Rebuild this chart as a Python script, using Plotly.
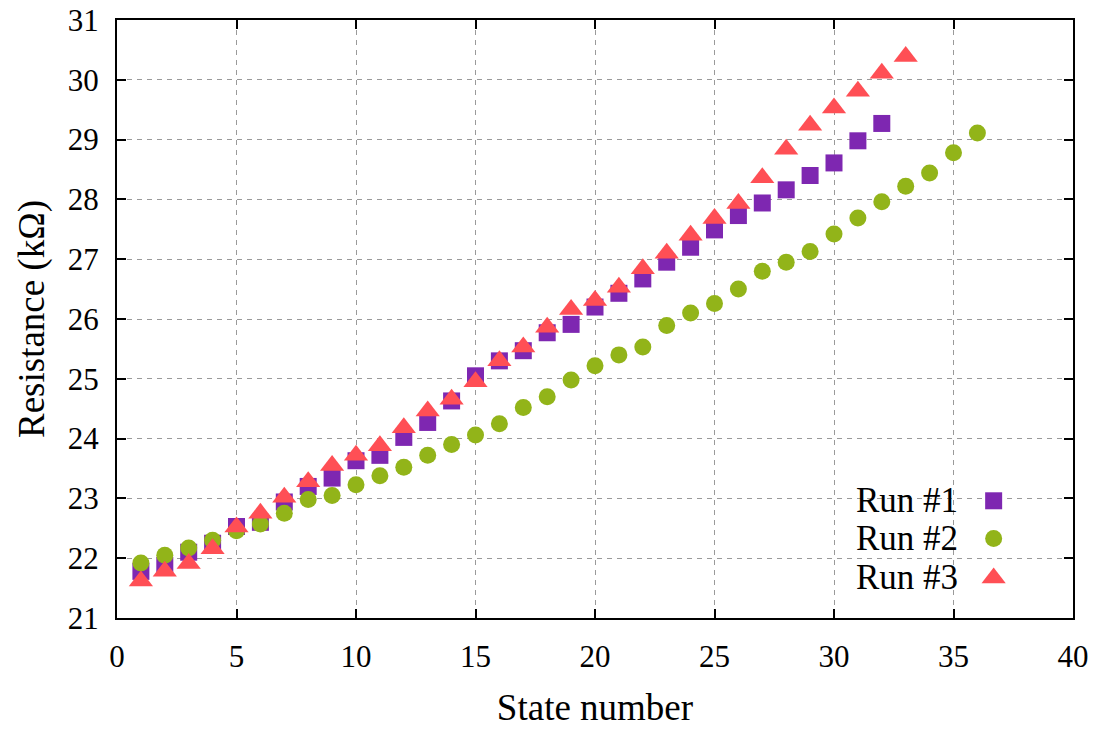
import plotly.graph_objects as go

# Resistance (kOhm) measured at each programmed state, three runs
states_run1 = list(range(1, 33))
run1 = [21.78, 21.88, 22.10, 22.25, 22.53, 22.60, 22.94, 23.20, 23.34, 23.63,
        23.72, 24.02, 24.27, 24.63, 25.05, 25.30, 25.47, 25.77, 25.91, 26.20,
        26.43, 26.67, 26.95, 27.20, 27.49, 27.73, 27.94, 28.16, 28.40, 28.61,
        28.98, 29.27]

states_run2 = list(range(1, 37))
run2 = [21.92, 22.05, 22.17, 22.30, 22.46, 22.57, 22.75, 22.98, 23.05, 23.23,
        23.38, 23.52, 23.72, 23.90, 24.06, 24.25, 24.52, 24.70, 24.98, 25.22,
        25.40, 25.53, 25.89, 26.10, 26.26, 26.50, 26.80, 26.95, 27.13, 27.42,
        27.69, 27.96, 28.22, 28.44, 28.78, 29.11]

states_run3 = list(range(1, 34))
run3 = [21.62, 21.78, 21.91, 22.16, 22.52, 22.75, 23.02, 23.28, 23.55, 23.72,
        23.88, 24.18, 24.46, 24.66, 24.95, 25.30, 25.53, 25.86, 26.16, 26.31,
        26.53, 26.84, 27.10, 27.40, 27.68, 27.93, 28.36, 28.84, 29.24, 29.53,
        29.81, 30.11, 30.39]

series_names = ["Run #1", "Run #2", "Run #3"]
colors = ["#7E27B1", "#92B419", "#FF4F55"]
symbols = ["square", "circle", "triangle-up"]
sizes = [17, 17, 21]

x_ticks = [0, 5, 10, 15, 20, 25, 30, 35, 40]
y_ticks = [21, 22, 23, 24, 25, 26, 27, 28, 29, 30, 31]

FONT = "Liberation Serif"

fig = go.Figure()
for xs, ys, name, c, s, sz in zip(
        [states_run1, states_run2, states_run3], [run1, run2, run3],
        series_names, colors, symbols, sizes):
    fig.add_trace(go.Scatter(
        x=xs, y=ys, mode="markers", name=name, showlegend=False,
        marker=dict(symbol=s, color=c, size=sz, line=dict(width=0)),
    ))

# Key: label text followed by its marker, stacked in the lower right
key_x_marker = 0.917
key_x_text = 0.882
key_rows = [0.196, 0.133, 0.067]
for name, c, s, sz, ky in zip(series_names, colors, symbols, sizes, key_rows):
    fig.add_trace(go.Scatter(
        x=[key_x_marker], y=[ky], xaxis="x2", yaxis="y2", mode="markers",
        showlegend=False, hoverinfo="skip",
        marker=dict(symbol=s, color=c, size=sz, line=dict(width=0)),
    ))
    fig.add_annotation(
        x=key_x_text, y=ky, xref="paper", yref="paper", text=name,
        showarrow=False, xanchor="right", yanchor="middle",
        font=dict(family=FONT, size=35, color="#000"),
    )

axis_common = dict(
    showline=True, linecolor="#000", linewidth=2, mirror="ticks",
    ticks="inside", ticklen=9, tickwidth=2, tickcolor="#000",
    showgrid=True, gridcolor="#9a9a9a", gridwidth=1, griddash="5px,5px",
    zeroline=False, tickfont=dict(family=FONT, size=31, color="#000"),
)

fig.update_layout(
    width=1095, height=731,
    margin=dict(l=117, r=22, t=20, b=113, autoexpand=False),
    paper_bgcolor="white", plot_bgcolor="white",
    font=dict(family=FONT, color="#000"),
    xaxis=dict(range=[0, 40], tickvals=x_ticks,
               title=dict(text="State number", font=dict(family=FONT, size=37),
                          standoff=21),
               ticklabelstandoff=10, **axis_common),
    yaxis=dict(range=[21, 31], tickvals=y_ticks,
               title=dict(text="Resistance (kΩ)", font=dict(family=FONT, size=37),
                          standoff=12),
               ticklabelstandoff=10, **axis_common),
    xaxis2=dict(overlaying="x", range=[0, 1], visible=False),
    yaxis2=dict(overlaying="y", range=[0, 1], visible=False),
)

fig.write_html("out.html")
